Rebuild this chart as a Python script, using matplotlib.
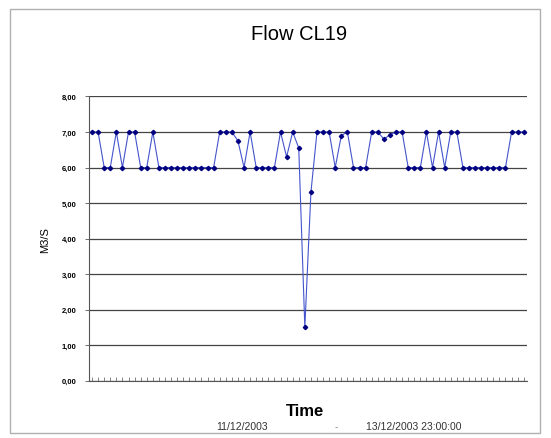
import matplotlib
matplotlib.use("Agg")
import matplotlib.pyplot as plt
from matplotlib.patches import Rectangle

# hourly flow, 11/12/2003 00:00 -> 13/12/2003 23:00
hours = list(range(72))
flow = [
    7, 7, 6, 6, 7, 6, 7, 7, 6, 6, 7, 6,
    6, 6, 6, 6, 6, 6, 6, 6, 6,
    7, 7, 7, 6.75, 6, 7, 6, 6, 6, 6, 7, 6.3, 7, 6.55, 1.5, 5.3,
    7, 7, 7, 6, 6.9, 7, 6, 6, 6, 7, 7, 6.8, 6.92, 7, 7,
    6, 6, 6, 7, 6, 7, 6, 7, 7,
    6, 6, 6, 6, 6, 6, 6, 6,
    7, 7, 7,
]
y_ticks = [0, 1, 2, 3, 4, 5, 6, 7, 8]
y_labels = ["0,00", "1,00", "2,00", "3,00", "4,00", "5,00", "6,00", "7,00", "8,00"]

plt.rcParams["font.family"] = ["Liberation Sans", "DejaVu Sans"]

fig = plt.figure(figsize=(5.51, 4.39), dpi=100)

fig.patches.append(
    Rectangle((10 / 551, 5 / 439), 530 / 551, 424 / 439,
              transform=fig.transFigure, fill=False,
              edgecolor="#b0b0b0", linewidth=1.0)
)

ax = fig.add_axes([0.1615, 0.1305, 0.7945, 0.6475])

ax.plot(
    hours,
    flow,
    color="#4455cc",
    linewidth=0.8,
    marker="D",
    markersize=2.2,
    markerfacecolor="#000080",
    markeredgecolor="#000080",
)

ax.set_xlim(-0.5, 71.5)
ax.set_ylim(0, 8)
ax.set_yticks(y_ticks)
ax.set_yticklabels(y_labels, fontsize=5.5, fontweight="bold")
ax.set_xticks(hours)
ax.set_xticklabels([])
ax.tick_params(axis="x", direction="in", length=3, width=0.5, color="#555555")
ax.tick_params(axis="y", length=3, width=0.6, color="#555555", pad=6)

ax.grid(axis="y", color="#444444", linewidth=0.9)
ax.set_axisbelow(True)
for side in ["top", "right"]:
    ax.spines[side].set_visible(False)
ax.spines["left"].set_color("#555555")
ax.spines["bottom"].set_color("#555555")

ax.set_ylabel("M3/S", fontsize=8, labelpad=8)

fig.text(0.543, 0.922, "Flow CL19", ha="center", va="center", fontsize=14.5)
fig.text(0.553, 0.062, "Time", ha="center", va="center", fontsize=12, fontweight="bold")
fig.text(0.44, 0.027, "11/12/2003", ha="center", va="center", fontsize=7.5, color="#333333")
fig.text(0.61, 0.027, "-", ha="center", va="center", fontsize=7.5, color="#888888")
fig.text(0.75, 0.027, "13/12/2003 23:00:00", ha="center", va="center", fontsize=7.5, color="#333333")

fig.savefig("out.png", dpi=100)
plt.close(fig)
